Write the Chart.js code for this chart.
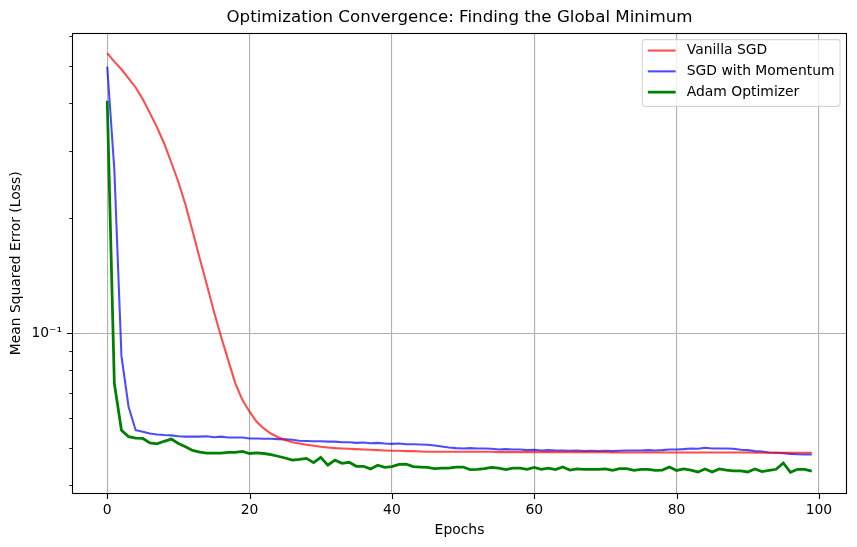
<!DOCTYPE html>
<html><head><meta charset="utf-8">
<script src="https://cdn.jsdelivr.net/npm/chart.js@4.4.0/dist/chart.umd.min.js"></script>
<style>html,body{margin:0;padding:0;background:#fff;overflow:hidden}</style>
</head><body>
<canvas id="c" width="857" height="547"></canvas>
<script>
const epochs = [0,1,2,3,4,5,6,7,8,9,10,11,12,13,14,15,16,17,18,19,20,21,22,23,24,25,26,27,28,29,30,31,32,33,34,35,36,37,38,39,40,41,42,43,44,45,46,47,48,49,50,51,52,53,54,55,56,57,58,59,60,61,62,63,64,65,66,67,68,69,70,71,72,73,74,75,76,77,78,79,80,81,82,83,84,85,86,87,88,89,90,91,92,93,94,95,96,97,98,99];

const vanillaSGD = [0.541,0.514,0.491,0.465,0.440,0.410,0.377,0.346,0.314,0.280,
  0.249,0.217,0.185,0.157,0.134,0.114,0.098,0.0851,0.0740,0.0669,
  0.0624,0.0587,0.0564,0.0547,0.0535,0.0526,0.0519,0.0515,0.0511,0.0508,
  0.0505,0.0503,0.0501,0.0500,0.0499,0.0498,0.0497,0.0496,0.0495,0.0494,
  0.0493,0.0493,0.0492,0.0492,0.0491,0.0490,0.0490,0.0490,0.0490,0.0490,
  0.0490,0.0490,0.0490,0.0490,0.0490,0.0489,0.0489,0.0489,0.0489,0.0489,
  0.0489,0.0489,0.0489,0.0489,0.0489,0.0489,0.0489,0.0489,0.0489,0.0489,
  0.0489,0.0488,0.0488,0.0488,0.0488,0.0488,0.0488,0.0488,0.0488,0.0488,
  0.0488,0.0488,0.0488,0.0488,0.0488,0.0488,0.0488,0.0488,0.0488,0.0488,
  0.0488,0.0487,0.0487,0.0487,0.0487,0.0487,0.0487,0.0487,0.0487,0.0487];

const sgdMomentum = [0.499,0.268,0.0872,0.0643,0.0558,0.0553,0.0547,0.0544,0.0542,0.0541,
  0.0538,0.0537,0.0537,0.0537,0.0538,0.0535,0.0537,0.0534,0.0534,0.0534,
  0.0531,0.0531,0.0530,0.0530,0.0529,0.0528,0.0527,0.0524,0.0523,0.0522,
  0.0522,0.0521,0.0521,0.0519,0.0519,0.0517,0.0518,0.0516,0.0517,0.0515,
  0.0514,0.0515,0.0513,0.0513,0.0512,0.0511,0.0509,0.0506,0.0503,0.0501,
  0.0500,0.0501,0.0500,0.0500,0.0499,0.0497,0.0498,0.0497,0.0497,0.0495,
  0.0496,0.0494,0.0495,0.0494,0.0494,0.0493,0.0494,0.0492,0.0493,0.0492,
  0.0493,0.0492,0.0493,0.0494,0.0494,0.0494,0.0495,0.0494,0.0495,0.0497,
  0.0497,0.0498,0.0500,0.0499,0.0502,0.0500,0.0500,0.0500,0.0499,0.0496,
  0.0495,0.0492,0.0491,0.0488,0.0487,0.0486,0.0484,0.0483,0.0482,0.0482];

const adam = [0.406,0.0740,0.0558,0.0537,0.0532,0.0531,0.0517,0.0514,0.0522,0.0529,
  0.0515,0.0505,0.0494,0.0489,0.0486,0.0486,0.0486,0.0488,0.0488,0.0491,
  0.0485,0.0487,0.0485,0.0482,0.0477,0.0472,0.0466,0.0468,0.0471,0.0459,
  0.0474,0.0452,0.0466,0.0457,0.0460,0.0449,0.0449,0.0442,0.0452,0.0446,
  0.0448,0.0454,0.0455,0.0448,0.0447,0.0446,0.0443,0.0444,0.0444,0.0447,
  0.0447,0.0440,0.0441,0.0443,0.0446,0.0444,0.0440,0.0444,0.0444,0.0441,
  0.0446,0.0441,0.0444,0.0440,0.0447,0.0439,0.0442,0.0441,0.0441,0.0441,
  0.0442,0.0438,0.0443,0.0443,0.0438,0.0441,0.0441,0.0438,0.0439,0.0447,
  0.0438,0.0442,0.0439,0.0434,0.0442,0.0434,0.0442,0.0439,0.0437,0.0437,
  0.0434,0.0442,0.0435,0.0438,0.0441,0.0458,0.0433,0.0441,0.0441,0.0436];

const seriesLabels = ['Vanilla SGD', 'SGD with Momentum', 'Adam Optimizer'];
const xTicks = [0, 20, 40, 60, 80, 100];
const yTicks = [0.04, 0.05, 0.06, 0.07, 0.08, 0.09, 0.1, 0.2, 0.3, 0.4, 0.5, 0.6];
const yMajorTicks = [0.1];
const yTickLabels = ['10⁻¹'];
const chartTitle = 'Optimization Convergence: Finding the Global Minimum';
const xTitle = 'Epochs';
const yTitle = 'Mean Squared Error (Loss)';

const FAM = '"DejaVu Sans", sans-serif';
const FS = 13.9;

const toXY = arr => epochs.map((e, i) => ({x: e, y: arr[i]}));

const frameTicksPlugin = {
  id: 'frameTicks',
  afterDatasetsDraw(chart) {
    const ctx = chart.ctx, a = chart.chartArea;
    const xs = chart.scales.x, ys = chart.scales.y;
    ctx.save();
    ctx.strokeStyle = '#000';
    ctx.lineWidth = 1.1;
    ctx.beginPath();
    xTicks.forEach(v => {
      const px = Math.round(xs.getPixelForValue(v)) + 0.5;
      ctx.moveTo(px, a.bottom); ctx.lineTo(px, a.bottom + 4.9);
    });
    yTicks.forEach(v => {
      if (yMajorTicks.includes(v)) {
        const py = Math.round(ys.getPixelForValue(v)) + 0.5;
        ctx.moveTo(a.left, py); ctx.lineTo(a.left - 4.9, py);
      }
    });
    ctx.stroke();
    ctx.lineWidth = 0.85;
    ctx.beginPath();
    yTicks.forEach(v => {
      if (!yMajorTicks.includes(v)) {
        const py = Math.round(ys.getPixelForValue(v)) + 0.5;
        ctx.moveTo(a.left, py); ctx.lineTo(a.left - 2.8, py);
      }
    });
    ctx.stroke();
    ctx.lineWidth = 1.1;
    ctx.strokeRect(Math.round(a.left) + 0.5, Math.round(a.top) + 0.5, Math.round(a.width) - 1, Math.round(a.height) - 1);
    ctx.restore();
  },
  afterDraw(chart) {
    const ctx = chart.ctx, a = chart.chartArea;
    ctx.save();
    ctx.font = FS + 'px ' + FAM;
    const ds = chart.data.datasets;
    const tw = Math.max(...ds.map(d => ctx.measureText(d.label).width));
    const w = 0.4 * FS * 2 + 2 * FS + 0.8 * FS + tw;
    const h = 66.7;
    const right = a.right - 0.5 * FS;
    const top = a.top + 0.5 * FS;
    const left = right - w;
    const r = 0.2 * FS;
    ctx.beginPath();
    ctx.moveTo(left + r, top);
    ctx.lineTo(right - r, top); ctx.quadraticCurveTo(right, top, right, top + r);
    ctx.lineTo(right, top + h - r); ctx.quadraticCurveTo(right, top + h, right - r, top + h);
    ctx.lineTo(left + r, top + h); ctx.quadraticCurveTo(left, top + h, left, top + h - r);
    ctx.lineTo(left, top + r); ctx.quadraticCurveTo(left, top, left + r, top);
    ctx.closePath();
    ctx.fillStyle = 'rgba(255,255,255,0.8)';
    ctx.fill();
    ctx.strokeStyle = 'rgba(204,204,204,0.8)';
    ctx.lineWidth = 1.1;
    ctx.stroke();
    ds.forEach((d, i) => {
      const y = top + 10.9 + i * 20.8;
      const x0 = left + 0.4 * FS;
      ctx.strokeStyle = d.borderColor;
      ctx.lineWidth = d.borderWidth;
      ctx.beginPath(); ctx.moveTo(x0, y); ctx.lineTo(x0 + 2 * FS, y); ctx.stroke();
      ctx.fillStyle = '#000';
      ctx.textBaseline = 'middle';
      ctx.textAlign = 'left';
      ctx.fillText(d.label, x0 + 2.8 * FS, y);
    });
    ctx.restore();
  }
};

new Chart(document.getElementById('c'), {
  type: 'line',
  data: {
    datasets: [
      {label: seriesLabels[0], data: toXY(vanillaSGD), borderColor: 'rgba(255,0,0,0.7)', borderWidth: 2.08, pointRadius: 0, tension: 0, fill: false},
      {label: seriesLabels[1], data: toXY(sgdMomentum), borderColor: 'rgba(0,0,255,0.7)', borderWidth: 2.08, pointRadius: 0, tension: 0, fill: false},
      {label: seriesLabels[2], data: toXY(adam), borderColor: '#008000', borderWidth: 2.78, pointRadius: 0, tension: 0, fill: false}
    ]
  },
  options: {
    responsive: false,
    animation: false,
    devicePixelRatio: 1,
    layout: {padding: {left: 0, right: 10, top: 0, bottom: 0}},
    plugins: {
      legend: {display: false},
      tooltip: {enabled: false},
      title: {display: true, fullSize: false, text: chartTitle, color: '#000', font: {family: FAM, size: 16.67, weight: 'normal'}, padding: {top: 8, bottom: 4.7}}
    },
    scales: {
      x: {
        type: 'linear', min: -4.95, max: 103.95,
        afterBuildTicks: s => { s.ticks = xTicks.map(v => ({value: v})); },
        afterFit: s => { s.height = 53; },
        ticks: {callback: v => String(v), color: '#000', font: {family: FAM, size: FS}, padding: 8, maxRotation: 0, autoSkip: false},
        grid: {color: '#b0b0b0', lineWidth: 1.1, drawTicks: false},
        border: {display: false},
        title: {display: true, text: xTitle, color: '#000', font: {family: FAM, size: FS}, padding: {top: 0, bottom: 8.7}}
      },
      y: {
        type: 'logarithmic', min: 0.038, max: 0.612,
        afterBuildTicks: s => { s.ticks = yTicks.map(v => ({value: v, major: yMajorTicks.includes(v)})); },
        afterFit: s => { s.width = 72; },
        ticks: {callback: v => { const k = yMajorTicks.indexOf(v); return k >= 0 ? yTickLabels[k] : ''; }, color: '#000', font: {family: FAM, size: FS}, padding: 10, autoSkip: false},
        grid: {color: c => (c.tick && yMajorTicks.includes(c.tick.value)) ? '#b0b0b0' : 'rgba(0,0,0,0)', lineWidth: 1.1, drawTicks: false},
        border: {display: false},
        title: {display: true, text: yTitle, color: '#000', font: {family: FAM, size: FS}, padding: {top: 8, bottom: 0}}
      }
    }
  },
  plugins: [frameTicksPlugin]
});
</script>
</body></html>
